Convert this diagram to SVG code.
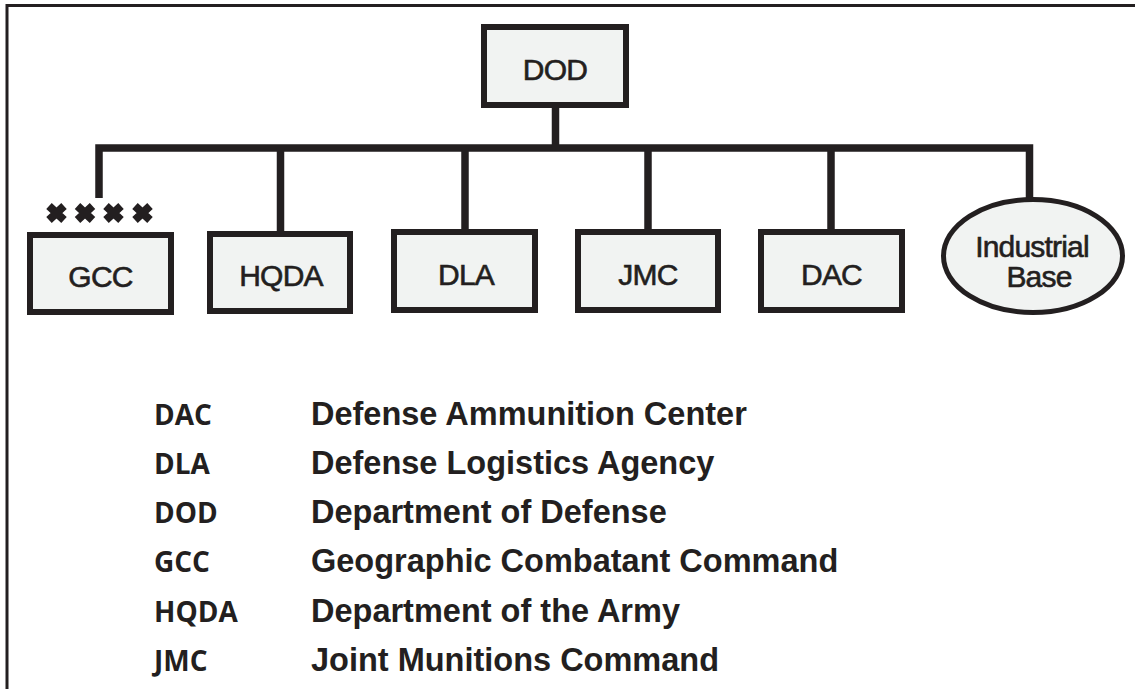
<svg xmlns="http://www.w3.org/2000/svg" width="1135" height="689" viewBox="0 0 1135 689">
<style>
.box{fill:#F1F3F2;stroke:#231F20;stroke-width:6}
.lbl{font-family:"Liberation Sans",Arial,sans-serif;font-size:30px;letter-spacing:-0.8px;fill:#231F20;stroke:#231F20;stroke-width:0.6;text-anchor:middle}
.conn{fill:none;stroke:#231F20;stroke-width:7.5}
.abbr{font-family:"Open Sans",sans-serif;font-weight:700;font-size:28px;fill:#231F20}
.desc{font-family:"Liberation Sans",Arial,sans-serif;font-weight:bold;font-size:32.5px;fill:#231F20}
.x{stroke:#231F20;stroke-width:8}
</style>
<rect width="1135" height="689" fill="#FFFFFF"/>
<g id="frame">
<path d="M7 689 V5.5 H1135" fill="none" stroke="#231F20" stroke-width="3"/>
</g>
<g id="connectors">
<path class="conn" d="M99 198 V148 H1029.5 V198"/>
<path class="conn" d="M555.5 108 V148"/>
<path class="conn" d="M280.5 148 V232"/>
<path class="conn" d="M465 148 V230"/>
<path class="conn" d="M648 148 V230"/>
<path class="conn" d="M831 148 V230"/>
</g>
<g id="dod">
<rect class="box" x="484" y="27" width="142" height="78"/>
<text class="lbl" x="555" y="80">DOD</text>
</g>
<g id="gcc">
<g id="xxxx">
<path class="x" d="M49 206 L64 220 M64 206 L49 220"/>
<path class="x" d="M77.5 206 L92.5 220 M92.5 206 L77.5 220"/>
<path class="x" d="M106 206 L121 220 M121 206 L106 220"/>
<path class="x" d="M135 206 L150 220 M150 206 L135 220"/>
</g>
<rect class="box" x="30" y="235" width="141" height="77"/>
<text class="lbl" x="100.5" y="287">GCC</text>
</g>
<g id="hqda">
<rect class="box" x="210" y="234" width="140" height="77"/>
<text class="lbl" x="281" y="286">HQDA</text>
</g>
<g id="dla">
<rect class="box" x="394" y="232" width="141" height="78"/>
<text class="lbl" x="466" y="285">DLA</text>
</g>
<g id="jmc">
<rect class="box" x="578" y="232" width="140" height="78"/>
<text class="lbl" x="648" y="285">JMC</text>
</g>
<g id="dac">
<rect class="box" x="761" y="232" width="141" height="78"/>
<text class="lbl" x="831.5" y="285">DAC</text>
</g>
<g id="industrial-base">
<ellipse cx="1033" cy="256" rx="89.5" ry="56.5" fill="#F1F3F2" stroke="#231F20" stroke-width="5"/>
<text class="lbl" x="1032" y="257">Industrial</text>
<text class="lbl" x="1039" y="287">Base</text>
</g>
<g id="legend">
<text class="abbr" x="154" y="425">DAC</text>
<text class="desc" x="311" y="425">Defense Ammunition Center</text>
<text class="abbr" x="154" y="474">DLA</text>
<text class="desc" x="311" y="474">Defense Logistics Agency</text>
<text class="abbr" x="154" y="523">DOD</text>
<text class="desc" x="311" y="523">Department of Defense</text>
<text class="abbr" x="154" y="572">GCC</text>
<text class="desc" x="311" y="572">Geographic Combatant Command</text>
<text class="abbr" x="154" y="622">HQDA</text>
<text class="desc" x="311" y="622">Department of the Army</text>
<text class="abbr" x="154" y="671">JMC</text>
<text class="desc" x="311" y="671">Joint Munitions Command</text>
</g>
</svg>
